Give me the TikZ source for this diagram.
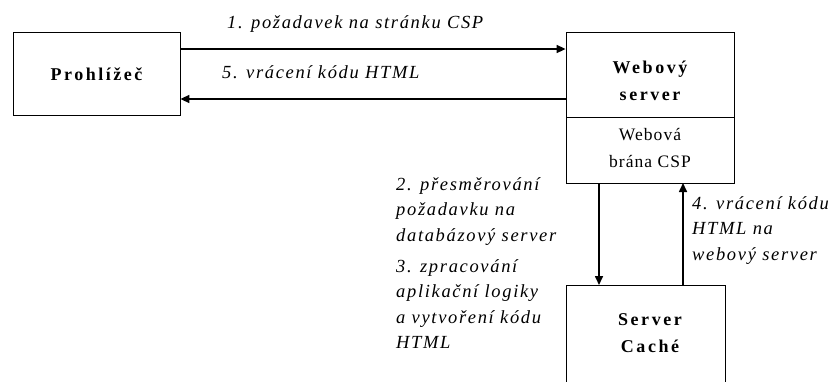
\documentclass[tikz,border=0pt]{standalone}
\usepackage{fontspec}
\setmainfont{Liberation Serif}
\usetikzlibrary{arrows.meta}
\begin{document}
\begin{tikzpicture}[x=1pt,y=-1pt,
  box/.style={draw,line width=0.8pt,inner sep=0pt},
  conn/.style={line width=1.6pt,-{Triangle[length=9pt,width=8pt]}},
  lbl/.style={font=\fontsize{18.5}{25.5}\selectfont\itshape\addfontfeature{LetterSpace=9},align=left,inner sep=0pt},
  title/.style={font=\fontsize{18}{27}\selectfont\bfseries\addfontfeature{LetterSpace=14},align=center,inner sep=0pt},
  sub/.style={font=\fontsize{17.5}{27}\selectfont\addfontfeature{LetterSpace=6},align=center,inner sep=0pt}]
\useasboundingbox (0,0) rectangle (834,381);
% boxes
\node[box,minimum width=167pt,minimum height=83pt] (pro) at (96.5,74) {};
\node[title] (prot) at (pro.center) {Prohlížeč};
\node[box,minimum width=168pt,minimum height=151pt] (web) at (650,107.5) {};
\draw[line width=0.8pt] (566,117) coordinate (dl) -- (734,117) coordinate (dr);
\node[title] (webt) at (650,81) {Webový\\server};
\node[sub] (webs) at (650,148) {Webová\\brána CSP};
\node[box,minimum width=159pt,minimum height=110pt] (cache) at (645.5,340) {};
\node[title] (cachet) at (650,333) {Server\\Caché};
% connectors
\coordinate (p1) at (pro.east |- 0,49);
\coordinate (w1) at (web.west |- 0,49);
\coordinate (p5) at (pro.east |- 0,99);
\coordinate (w5) at (web.west |- 0,99);
\draw[conn] (p1) -- (w1);
\draw[conn] (w5) -- (p5);
\coordinate (wd) at (599,183);
\coordinate (cd) at (599,285);
\coordinate (wu) at (683,183);
\coordinate (cu) at (683,285);
\draw[conn] (wd) -- (cd);
\draw[conn] (cu) -- (wu);
% labels
\node[lbl,anchor=west] (l1) at (227,24) {1. požadavek na stránku CSP};
\node[lbl,anchor=west] (l5) at (222,72) {5. vrácení kódu HTML};
\node[lbl,anchor=north west] (l2) at (396,177) {2. přesměrování\\požadavku na\\databázový server};
\node[lbl,anchor=north west] (l3) at (396,259) {3. zpracování\\aplikační logiky\\a vytvoření kódu\\HTML};
\node[lbl,anchor=north west] (l4) at (692,196) {4. vrácení kódu\\HTML na\\webový server};
\end{tikzpicture}
\end{document}
